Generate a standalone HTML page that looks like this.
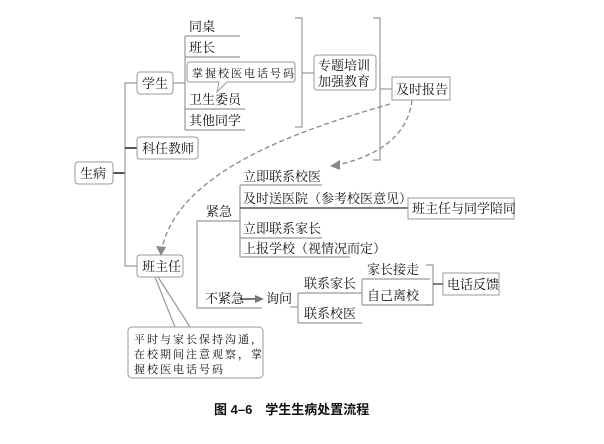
<!DOCTYPE html>
<html><head><meta charset="utf-8"><style>
html,body{margin:0;padding:0;background:#fff;width:604px;height:444px;overflow:hidden}
svg{display:block}
text{font-family:"Liberation Serif","Noto Serif CJK SC","Noto Sans CJK SC",serif;font-size:13px;fill:#111}
.s{font-size:11px;letter-spacing:2px}
</style></head><body>
<svg width="604" height="444" viewBox="0 0 604 444">
<g fill="none" stroke="#999" stroke-width="1.2">
<line x1="113" y1="173" x2="125" y2="173" stroke="#555" stroke-width="2"/>
<path d="M137 83 H125 V266 H137"/>
<line x1="125" y1="148" x2="137" y2="148" stroke="#555" stroke-width="2"/>
<path d="M173 83 H185"/>
<path d="M185 36 V130"/>
<line x1="185" y1="36" x2="240" y2="36"/>
<line x1="185" y1="57" x2="240" y2="57"/>
<line x1="185" y1="109" x2="245" y2="109"/>
<line x1="185" y1="130" x2="245" y2="130"/>
<path d="M295 18 H302 V127 H295"/>
<line x1="302" y1="73" x2="314" y2="73"/>
<path d="M373 18 H380 V160 H373"/>
<line x1="380" y1="89" x2="392" y2="89"/>
<path d="M240 221 H197 V308 H262"/>
<path d="M240 185 V257"/>
<line x1="240" y1="185" x2="322" y2="185"/>
<line x1="240" y1="238" x2="322" y2="238"/>
<line x1="240" y1="257" x2="350" y2="257"/>
<line x1="240" y1="208" x2="408" y2="208" stroke="#555" stroke-width="1.5"/>
<path d="M290 307 H298"/>
<path d="M298 293 V323"/>
<line x1="298" y1="293" x2="362" y2="293"/>
<line x1="298" y1="323" x2="362" y2="323"/>
<path d="M362 279 V305"/>
<line x1="362" y1="279" x2="430" y2="279"/>
<line x1="362" y1="305" x2="430" y2="305"/>
<path d="M426 265 H433 V305 H426"/>
<line x1="433" y1="284" x2="443" y2="284" stroke="#555" stroke-width="1.5"/>
<path d="M155 277 L175 327 M158 277 L190 327"/>
</g>
<line x1="240" y1="299" x2="258" y2="299" stroke="#777" stroke-width="2"/>
<polygon points="264,299 255,295 255,303" fill="#777"/>
<g fill="none" stroke="#888" stroke-width="1.3" stroke-dasharray="5,3">
<path d="M412 100 C408 135 380 155 338 165"/>
<path d="M390 104 C300 130 180 170 162 248"/>
</g>
<polygon points="330,166 340,160 340,170" fill="#888"/>
<polygon points="161,256 156,246 166,247" fill="#888"/>
<g fill="#fff" stroke="#999" stroke-width="1">
<rect x="75" y="162" width="38" height="22" rx="3"/>
<rect x="137" y="72" width="36" height="22" rx="3"/>
<rect x="137" y="137" width="61" height="22" rx="3"/>
<rect x="137" y="255" width="46" height="22" rx="3"/>
<rect x="314" y="55" width="62" height="35" rx="3"/>
<rect x="392" y="77" width="58" height="23"/>
<rect x="408" y="198" width="106" height="21"/>
<rect x="443" y="273" width="56" height="22"/>
<rect x="128" y="327" width="135" height="51" rx="4"/>
<path d="M190 62 H292 Q295 62 295 65 V79 Q295 82 292 82 H227 L217 92 L219 82 H190 Q187 82 187 79 V65 Q187 62 190 62 Z"/>
</g>
<text x="80" y="178">生病</text>
<text x="142" y="88">学生</text>
<text x="142" y="153">科任教师</text>
<text x="142" y="271">班主任</text>
<text x="189" y="31">同桌</text>
<text x="189" y="52">班长</text>
<text x="192" y="77" class="s">掌握校医电话号码</text>
<text x="189" y="104">卫生委员</text>
<text x="189" y="125">其他同学</text>
<text x="318" y="70">专题培训</text>
<text x="318" y="86">加强教育</text>
<text x="396" y="94">及时报告</text>
<text x="243" y="181">立即联系校医</text>
<text x="243" y="203">及时送医院（参考校医意见）</text>
<text x="412" y="213">班主任与同学陪同</text>
<text x="206" y="216">紧急</text>
<text x="243" y="233">立即联系家长</text>
<text x="243" y="253">上报学校（视情况而定）</text>
<text x="205" y="303">不紧急</text>
<text x="266" y="303">询问</text>
<text x="304" y="288">联系家长</text>
<text x="304" y="318">联系校医</text>
<text x="367" y="274">家长接走</text>
<text x="367" y="300">自己离校</text>
<text x="447" y="289">电话反馈</text>
<text x="134" y="343" class="s">平时与家长保持沟通，</text>
<text x="134" y="358" class="s">在校期间注意观察，掌</text>
<text x="134" y="373" class="s">握校医电话号码</text>
<text x="214" y="414" style="font-family:'Liberation Sans','Noto Sans CJK SC',sans-serif;font-weight:bold;font-size:13px">图 4–6　学生生病处置流程</text>
</svg>
</body></html>
